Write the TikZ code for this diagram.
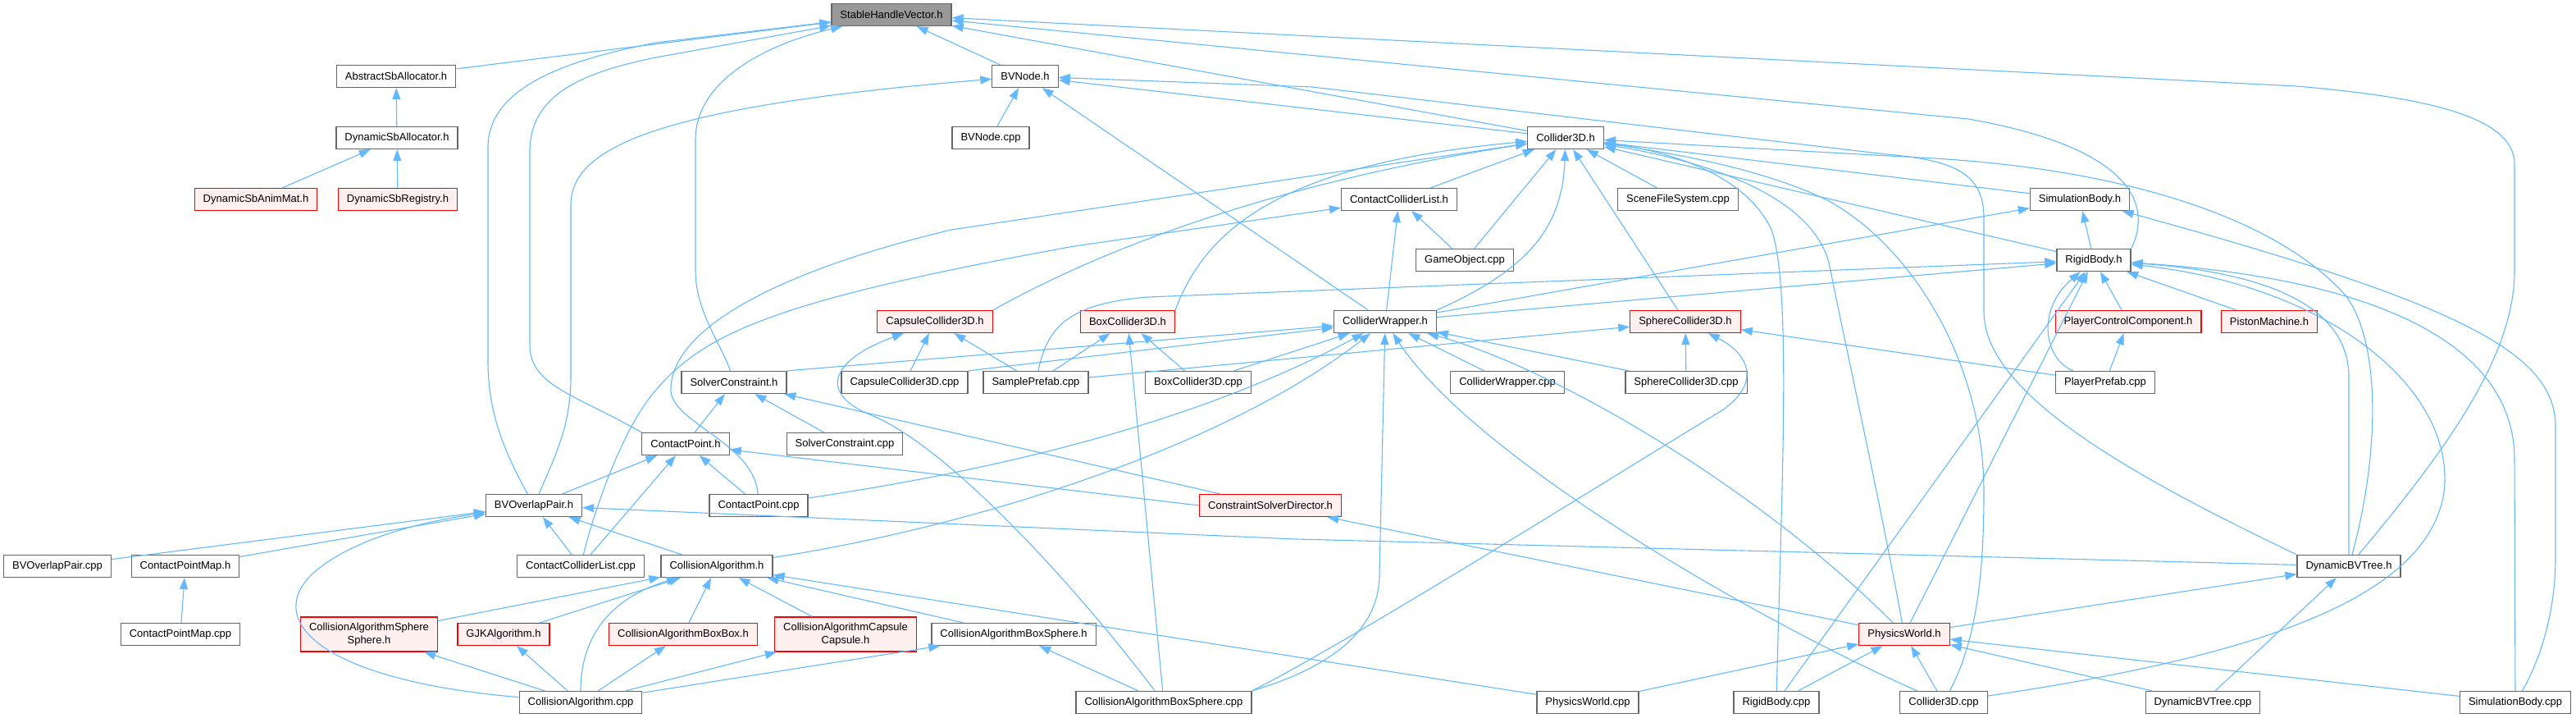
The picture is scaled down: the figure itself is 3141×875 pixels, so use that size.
\documentclass[tikz,border=0pt]{standalone}
\usepackage{fontspec}
\setmainfont{Liberation Sans}
\usepackage{tikz}
\usetikzlibrary{arrows.meta}
\definecolor{edgeblue}{HTML}{63B8FF}
\definecolor{boxline}{HTML}{666666}
\definecolor{headfill}{HTML}{999999}
\definecolor{redfill}{HTML}{FFF0F0}

\begin{document}
\begin{tikzpicture}[
  x=1pt, y=-1pt,
  fnode/.style={rectangle,draw=boxline,fill=white,line width=1.2pt,inner xsep=10.5pt,inner ysep=2pt,minimum height=27pt,font=\fontsize{13pt}{16.5pt}\selectfont,align=center},
  rnode/.style={fnode,draw=red},
  topnode/.style={fnode,fill=headfill},
  tall/.style={minimum height=42pt},
  dep/.style={draw=edgeblue,line width=1.1pt,-{Triangle[length=14pt,width=10pt]}}
]
  \useasboundingbox (0,0) rectangle (3141,875);
  \node[topnode] (shv) at (1087,18) {StableHandleVector.h};
  \node[fnode] (abstract) at (483,93) {AbstractSbAllocator.h};
  \node[fnode] (bvnode) at (1250,93) {BVNode.h};
  \node[fnode] (dynalloc) at (484,168) {DynamicSbAllocator.h};
  \node[fnode] (bvnodecpp) at (1208,168) {BVNode.cpp};
  \node[fnode] (collider) at (1909,168) {Collider3D.h};
  \node[rnode,fill=redfill] (animmat) at (312,243) {DynamicSbAnimMat.h};
  \node[rnode,fill=redfill] (registry) at (485,243) {DynamicSbRegistry.h};
  \node[fnode] (cclh) at (1706,243) {ContactColliderList.h};
  \node[fnode] (scenefs) at (2046,243) {SceneFileSystem.cpp};
  \node[fnode] (simh) at (2536,243) {SimulationBody.h};
  \node[fnode] (gameobj) at (1786,317) {GameObject.cpp};
  \node[fnode] (rigidh) at (2553,317) {RigidBody.h};
  \node[rnode,fill=redfill] (capsuleh) at (1140,392) {CapsuleCollider3D.h};
  \node[rnode,fill=redfill] (boxh) at (1375,392) {BoxCollider3D.h};
  \node[fnode] (wraph) at (1689,392) {ColliderWrapper.h};
  \node[rnode,fill=redfill] (sphereh) at (2055,392) {SphereCollider3D.h};
  \node[rnode,fill=redfill] (pcch) at (2595,392) {PlayerControlComponent.h};
  \node[rnode,fill=redfill] (pistonh) at (2767,392) {PistonMachine.h};
  \node[fnode] (solvh) at (895,466) {SolverConstraint.h};
  \node[fnode] (capcpp) at (1103,466) {CapsuleCollider3D.cpp};
  \node[fnode] (sampcpp) at (1263,466) {SamplePrefab.cpp};
  \node[fnode] (boxcpp) at (1461,466) {BoxCollider3D.cpp};
  \node[fnode] (wrapcpp) at (1838,466) {ColliderWrapper.cpp};
  \node[fnode] (sphcpp) at (2056,466) {SphereCollider3D.cpp};
  \node[fnode] (plpref) at (2567,466) {PlayerPrefab.cpp};
  \node[fnode] (cph) at (836,541) {ContactPoint.h};
  \node[fnode] (solvcpp) at (1030,541) {SolverConstraint.cpp};
  \node[fnode] (bvoph) at (651,616) {BVOverlapPair.h};
  \node[fnode] (cpcpp) at (925,616) {ContactPoint.cpp};
  \node[rnode,fill=redfill] (csdh) at (1549,616) {ConstraintSolverDirector.h};
  \node[fnode] (bvopcpp) at (70,690) {BVOverlapPair.cpp};
  \node[fnode] (cpmh) at (226,690) {ContactPointMap.h};
  \node[fnode] (cclcpp) at (708,690) {ContactColliderList.cpp};
  \node[fnode] (cah) at (874,690) {CollisionAlgorithm.h};
  \node[fnode] (dbvth) at (2864,690) {DynamicBVTree.h};
  \node[fnode] (cpmcpp) at (220,773) {ContactPointMap.cpp};
  \node[rnode,fill=redfill,tall] (cassh) at (450,773) {CollisionAlgorithmSphere\\Sphere.h};
  \node[rnode,fill=redfill] (gjkh) at (614,773) {GJKAlgorithm.h};
  \node[rnode,fill=redfill] (cabbh) at (833,773) {CollisionAlgorithmBoxBox.h};
  \node[rnode,fill=redfill,tall] (cacch) at (1031,773) {CollisionAlgorithmCapsule\\Capsule.h};
  \node[fnode] (cabsh) at (1236,773) {CollisionAlgorithmBoxSphere.h};
  \node[rnode,fill=redfill] (physh) at (2322,773) {PhysicsWorld.h};
  \node[fnode] (cacpp) at (708,856) {CollisionAlgorithm.cpp};
  \node[fnode] (cabscpp) at (1419,856) {CollisionAlgorithmBoxSphere.cpp};
  \node[fnode] (physcpp) at (1936,856) {PhysicsWorld.cpp};
  \node[fnode] (rigidcpp) at (2166,856) {RigidBody.cpp};
  \node[fnode] (collcpp) at (2370,856) {Collider3D.cpp};
  \node[fnode] (dbvtcpp) at (2686,856) {DynamicBVTree.cpp};
  \node[fnode] (simcpp) at (3067,856) {SimulationBody.cpp};
  % StableHandleVector.h
  \draw[dep] (abstract) -- (shv);
  \draw[dep] (bvnode) -- (shv);
  \draw[dep] (collider) -- (shv);
  \draw[dep] (rigidh.north east) .. controls (2625,250) and (2600,180) .. (2400,145) -- (shv);
  \draw[dep] (dbvth) .. controls (2990,540) and (3066,430) .. (3066,330) -- (3066,200) .. controls (3066,140) and (2950,118) .. (2800,105) -- (shv);
  \draw[dep] (bvoph) .. controls (612,545) and (595,500) .. (595,440) -- (595,180) .. controls (595,110) and (680,75) .. (800,52) -- (shv);
  \draw[dep] (cph.north west) .. controls (700,480) and (646,470) .. (646,420) -- (646,185) .. controls (646,120) and (700,90) .. (800,70) -- (shv);
  \draw[dep] (solvh) .. controls (880,420) and (848,380) .. (848,330) -- (848,170) .. controls (848,100) and (930,55) .. (shv);
  \draw[dep] (dynalloc) -- (abstract);
  \draw[dep] (animmat) -- (dynalloc);
  \draw[dep] (registry) -- (dynalloc);
  % BVNode.h
  \draw[dep] (bvnodecpp) -- (bvnode);
  \draw[dep] (collider) -- (bvnode);
  \draw[dep] (wraph) -- (bvnode);
  \draw[dep] (bvoph) .. controls (675,560) and (696,520) .. (696,460) -- (696,250) .. controls (696,180) and (800,130) .. (bvnode);
  \draw[dep] (dbvth.north west) .. controls (2600,580) and (2419,480) .. (2419,380) -- (2419,265) .. controls (2419,210) and (2380,195) .. (2300,188) -- (1600,106) -- (bvnode);
  % Collider3D.h
  \draw[dep] (cclh) -- (collider);
  \draw[dep] (gameobj) -- (collider);
  \draw[dep] (gameobj) -- (cclh);
  \draw[dep] (scenefs) -- (collider);
  \draw[dep] (wraph.north east) .. controls (1860,330) and (1905,280) .. (collider);
  \draw[dep] (wraph) -- (cclh);
  \draw[dep] (sphereh) -- (collider);
  \draw[dep] (capsuleh.north east) .. controls (1350,300) and (1560,222) .. (collider);
  \draw[dep] (boxh.north east) .. controls (1470,280) and (1560,200) .. (collider);
  \draw[dep] (simh) -- (collider);
  \draw[dep] (rigidh) -- (collider);
  \draw[dep] (rigidh) -- (simh);
  \draw[dep] (dbvth) .. controls (2900,560) and (2905,420) .. (2860,360) .. controls (2780,270) and (2600,205) .. (2340,192) -- (collider);
  \draw[dep] (rigidcpp) .. controls (2172,600) and (2185,350) .. (2160,280) .. controls (2130,215) and (2040,185) .. (collider);
  \draw[dep] (physh) .. controls (2290,600) and (2250,420) .. (2230,320) .. controls (2210,245) and (2100,200) .. (collider);
  \draw[dep] (collcpp) .. controls (2410,780) and (2419,700) .. (2419,600) .. controls (2419,440) and (2330,300) .. (2230,245) .. controls (2150,205) and (2030,185) .. (collider);
  \draw[dep] (cpcpp) .. controls (920,540) and (818,515) .. (818,475) .. controls (818,400) and (950,330) .. (1160,280) -- (collider);
  \draw[dep] (cclcpp) .. controls (725,620) and (760,520) .. (800,475) .. controls (860,405) and (950,365) .. (1310,300) -- (cclh);
  % RigidBody.h and SimulationBody.h
  \draw[dep] (wraph) -- (simh);
  \draw[dep] (wraph) -- (rigidh);
  \draw[dep] (sampcpp) .. controls (1277,400) and (1300,370) .. (1400,362) -- (rigidh);
  \draw[dep] (plpref) .. controls (2495,440) and (2480,380) .. (rigidh);
  \draw[dep] (pcch) -- (rigidh);
  \draw[dep] (pistonh) -- (rigidh);
  \draw[dep] (dbvth) -- (2864,460) .. controls (2864,390) and (2800,335) .. (rigidh);
  \draw[dep] (simcpp) -- (3066,560) .. controls (3066,420) and (2900,340) .. (rigidh);
  \draw[dep] (collcpp) .. controls (2750,800) and (2960,730) .. (2980,600) .. controls (2995,480) and (2850,350) .. (rigidh);
  \draw[dep] (rigidcpp) -- (rigidh);
  \draw[dep] (physh) -- (rigidh);
  \draw[dep] (simcpp) .. controls (3100,800) and (3116,740) .. (3116,680) -- (3116,520) .. controls (3116,430) and (3000,370) .. (simh);
  \draw[dep] (plpref) -- (pcch);
  % collider shapes
  \draw[dep] (plpref) -- (sphereh);
  \draw[dep] (sampcpp) -- (sphereh);
  \draw[dep] (sphcpp) -- (sphereh);
  \draw[dep] (cabscpp.north east) .. controls (1650,780) and (2000,560) .. (2100,500) .. controls (2150,465) and (2130,430) .. (sphereh);
  \draw[dep] (sampcpp) -- (capsuleh);
  \draw[dep] (capcpp) -- (capsuleh);
  \draw[dep] (cabscpp) .. controls (1300,700) and (1150,540) .. (1060,505) .. controls (1000,480) and (1010,440) .. (capsuleh);
  \draw[dep] (sampcpp) -- (boxh);
  \draw[dep] (boxcpp) -- (boxh);
  \draw[dep] (cabscpp) -- (boxh);
  % ColliderWrapper.h
  \draw[dep] (solvh.north east) -- (wraph);
  \draw[dep] (capcpp.north east) -- (wraph);
  \draw[dep] (boxcpp) -- (wraph);
  \draw[dep] (cpcpp) .. controls (1200,575) and (1450,520) .. (wraph);
  \draw[dep] (cah) .. controls (1200,640) and (1500,540) .. (wraph);
  \draw[dep] (cabscpp.north east) .. controls (1600,820) and (1682,780) .. (1682,700) -- (wraph);
  \draw[dep] (collcpp) .. controls (2150,760) and (1800,560) .. (wraph);
  \draw[dep] (wrapcpp) -- (wraph);
  \draw[dep] (sphcpp) -- (wraph);
  \draw[dep] (physh) .. controls (2150,600) and (1900,450) .. (wraph);
  % solver and contact points
  \draw[dep] (cph) -- (solvh);
  \draw[dep] (solvcpp) -- (solvh);
  \draw[dep] (csdh) -- (solvh);
  \draw[dep] (bvoph) -- (cph);
  \draw[dep] (cclcpp) -- (cph);
  \draw[dep] (cpcpp) -- (cph);
  \draw[dep] (csdh.west) -- ([yshift=-7pt]cph.east);
  \draw[dep] (physh) -- (csdh);
  % BVOverlapPair.h
  \draw[dep] (bvopcpp) -- (bvoph);
  \draw[dep] (cpmh) -- (bvoph);
  \draw[dep] (cacpp) .. controls (400,830) and (320,760) .. (380,700) .. controls (430,655) and (520,635) .. (bvoph);
  \draw[dep] (cclcpp) -- (bvoph);
  \draw[dep] (cah) -- (bvoph);
  \draw[dep] (dbvth) -- (1580,657) -- (bvoph);
  \draw[dep] (cpmcpp) -- (cpmh);
  % CollisionAlgorithm.h
  \draw[dep] (cassh) -- (cah);
  \draw[dep] (gjkh) -- (cah);
  \draw[dep] (cacpp) .. controls (708,780) and (740,730) .. (cah);
  \draw[dep] (cabbh) -- (cah);
  \draw[dep] (cacch) -- (cah);
  \draw[dep] (cabsh) -- (cah);
  \draw[dep] (physcpp) -- (cah);
  \draw[dep] (cacpp) -- (cassh);
  \draw[dep] (cacpp) -- (gjkh);
  \draw[dep] (cacpp) -- (cabbh);
  \draw[dep] (cacpp) -- (cacch);
  \draw[dep] (cacpp) -- (cabsh);
  \draw[dep] (cabscpp) -- (cabsh);
  % PhysicsWorld.h and DynamicBVTree.h
  \draw[dep] (physcpp) -- (physh);
  \draw[dep] (rigidcpp) -- (physh);
  \draw[dep] (collcpp) -- (physh);
  \draw[dep] (dbvtcpp) -- (physh);
  \draw[dep] (simcpp) -- (physh);
  \draw[dep] (physh) -- (dbvth);
  \draw[dep] (dbvtcpp) -- (dbvth);
\end{tikzpicture}
\end{document}
